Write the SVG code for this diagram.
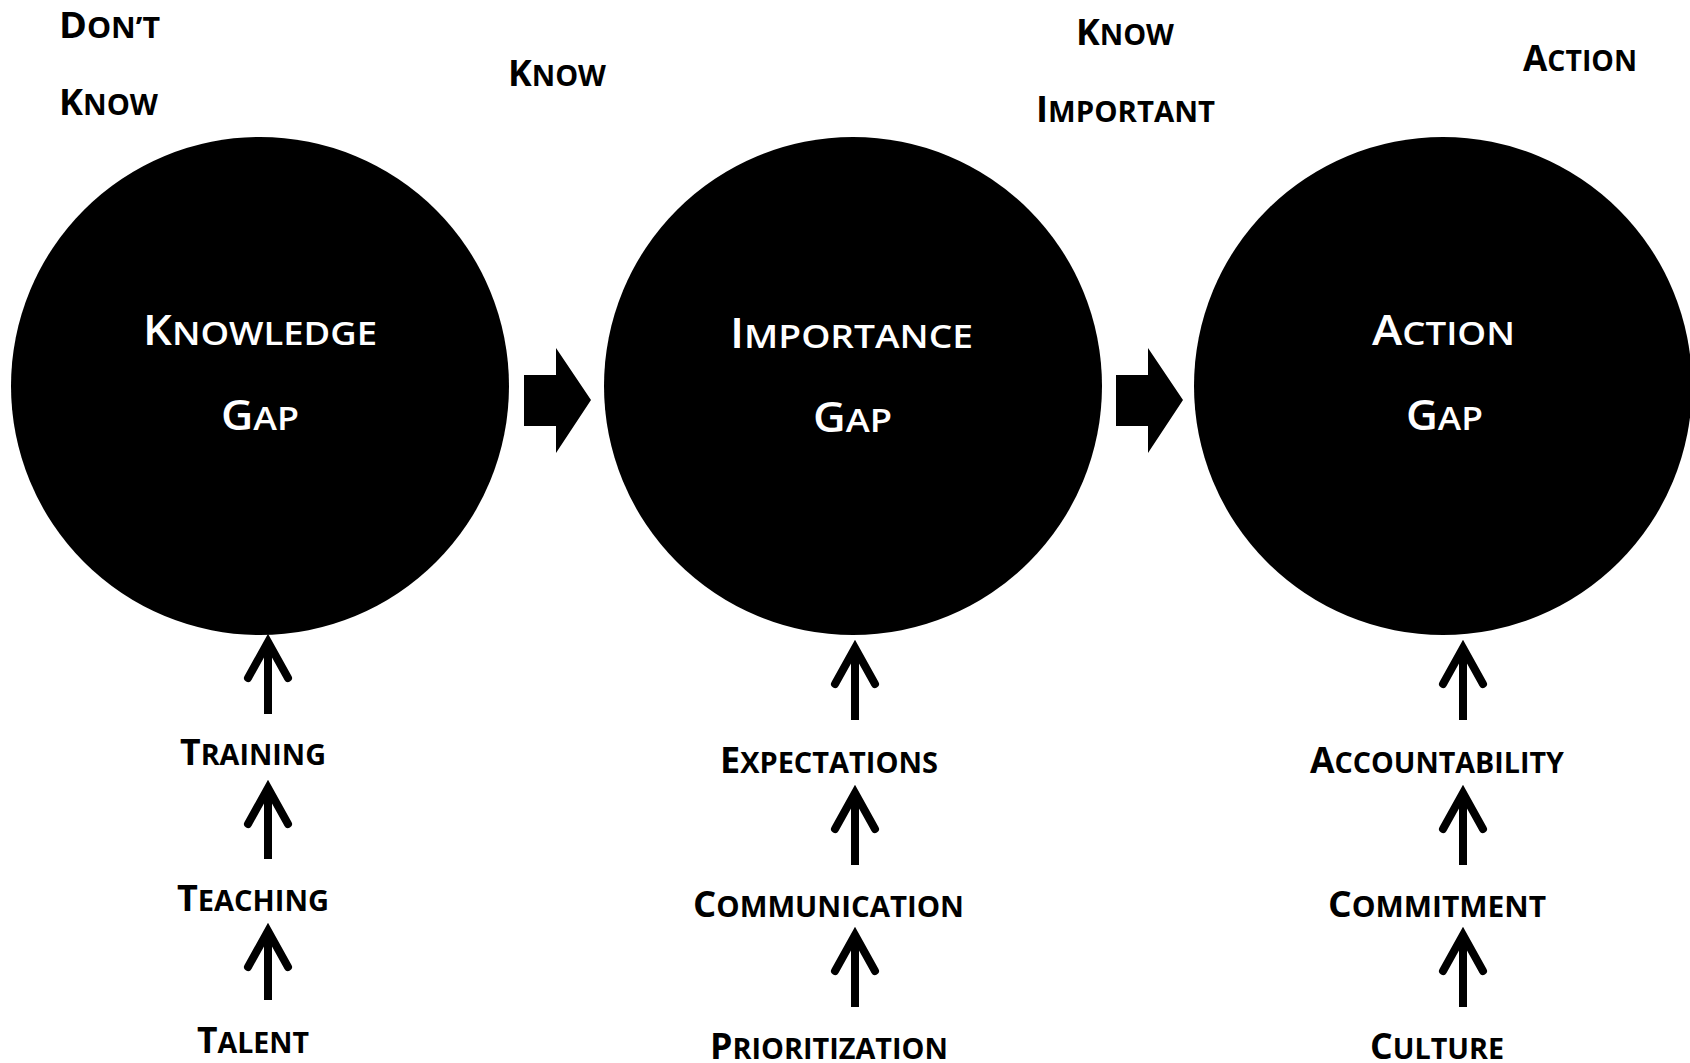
<svg xmlns="http://www.w3.org/2000/svg" width="1690" height="1063" viewBox="0 0 1690 1063">
<style>
.lbl{font-family:"Open Sans","Liberation Sans",sans-serif;font-weight:700;fill:#000}
.in{font-family:"Open Sans","Liberation Sans",sans-serif;font-weight:600;fill:#fff}
.big{font-size:36px}
.sm{font-size:29px}
.ib{font-size:41px}
.is{font-size:33px}
.gap{fill:#000}
.blk{fill:#000}
.ar{stroke:#000;stroke-width:8;fill:none}
.arh{stroke:#000;stroke-width:8;fill:none;stroke-linecap:round;stroke-linejoin:miter;stroke-miterlimit:10}
</style>
<rect width="1690" height="1063" fill="#fff"/>
<g id="top-labels">
<text class="lbl" x="59" y="38" textLength="101" lengthAdjust="spacingAndGlyphs"><tspan class="big">D</tspan><tspan class="sm">ON’T</tspan></text>
<text class="lbl" x="59" y="115" textLength="99" lengthAdjust="spacingAndGlyphs"><tspan class="big">K</tspan><tspan class="sm">NOW</tspan></text>
<text class="lbl" x="508" y="86" textLength="98" lengthAdjust="spacingAndGlyphs"><tspan class="big">K</tspan><tspan class="sm">NOW</tspan></text>
<text class="lbl" x="1076" y="45" textLength="98" lengthAdjust="spacingAndGlyphs"><tspan class="big">K</tspan><tspan class="sm">NOW</tspan></text>
<text class="lbl" x="1036" y="122" textLength="179" lengthAdjust="spacingAndGlyphs"><tspan class="big">I</tspan><tspan class="sm">MPORTANT</tspan></text>
<text class="lbl" x="1523" y="71" textLength="114" lengthAdjust="spacingAndGlyphs"><tspan class="big">A</tspan><tspan class="sm">CTION</tspan></text>
</g>
<g id="knowledge-gap">
<circle class="gap" cx="260" cy="386" r="249"/>
<text class="in" x="143" y="345" textLength="234" lengthAdjust="spacingAndGlyphs"><tspan class="ib">K</tspan><tspan class="is">NOWLEDGE</tspan></text>
<text class="in" x="221" y="430" textLength="78" lengthAdjust="spacingAndGlyphs"><tspan class="ib">G</tspan><tspan class="is">AP</tspan></text>
</g>
<g id="importance-gap">
<circle class="gap" cx="853" cy="386" r="249"/>
<text class="in" x="730" y="348" textLength="243" lengthAdjust="spacingAndGlyphs"><tspan class="ib">I</tspan><tspan class="is">MPORTANCE</tspan></text>
<text class="in" x="813" y="432" textLength="79" lengthAdjust="spacingAndGlyphs"><tspan class="ib">G</tspan><tspan class="is">AP</tspan></text>
</g>
<g id="action-gap">
<circle class="gap" cx="1443" cy="386" r="249"/>
<text class="in" x="1372" y="345" textLength="143" lengthAdjust="spacingAndGlyphs"><tspan class="ib">A</tspan><tspan class="is">CTION</tspan></text>
<text class="in" x="1406" y="430" textLength="77" lengthAdjust="spacingAndGlyphs"><tspan class="ib">G</tspan><tspan class="is">AP</tspan></text>
</g>
<g id="knowledge-factors">
<text class="lbl" x="180" y="765" textLength="146" lengthAdjust="spacingAndGlyphs"><tspan class="big">T</tspan><tspan class="sm">RAINING</tspan></text>
<text class="lbl" x="177" y="911" textLength="152" lengthAdjust="spacingAndGlyphs"><tspan class="big">T</tspan><tspan class="sm">EACHING</tspan></text>
<text class="lbl" x="197" y="1053" textLength="112" lengthAdjust="spacingAndGlyphs"><tspan class="big">T</tspan><tspan class="sm">ALENT</tspan></text>
</g>
<g id="importance-factors">
<text class="lbl" x="720" y="773" textLength="218" lengthAdjust="spacingAndGlyphs"><tspan class="big">E</tspan><tspan class="sm">XPECTATIONS</tspan></text>
<text class="lbl" x="693" y="917" textLength="271" lengthAdjust="spacingAndGlyphs"><tspan class="big">C</tspan><tspan class="sm">OMMUNICATION</tspan></text>
<text class="lbl" x="710" y="1059" textLength="238" lengthAdjust="spacingAndGlyphs"><tspan class="big">P</tspan><tspan class="sm">RIORITIZATION</tspan></text>
</g>
<g id="action-factors">
<text class="lbl" x="1310" y="773" textLength="254" lengthAdjust="spacingAndGlyphs"><tspan class="big">A</tspan><tspan class="sm">CCOUNTABILITY</tspan></text>
<text class="lbl" x="1328" y="917" textLength="218" lengthAdjust="spacingAndGlyphs"><tspan class="big">C</tspan><tspan class="sm">OMMITMENT</tspan></text>
<text class="lbl" x="1370" y="1059" textLength="134" lengthAdjust="spacingAndGlyphs"><tspan class="big">C</tspan><tspan class="sm">ULTURE</tspan></text>
</g>
<g id="connectors">
<path class="blk" d="M524,375 H556 V348 L591,400 L556,453 V426 H524 Z"/>
<path class="blk" d="M1116,375 H1148 V348 L1183,400 L1148,453 V426 H1116 Z"/>
<g id="k-arrows">
<line class="ar" x1="268" y1="644" x2="268" y2="714"/><polyline class="arh" points="248,678 268,642 288,678"/>
<line class="ar" x1="268" y1="790" x2="268" y2="859"/><polyline class="arh" points="248,824 268,788 288,824"/>
<line class="ar" x1="268" y1="933" x2="268" y2="1000"/><polyline class="arh" points="248,967 268,931 288,967"/>
</g>
<g id="i-arrows">
<line class="ar" x1="855" y1="650" x2="855" y2="720"/><polyline class="arh" points="835,684 855,648 875,684"/>
<line class="ar" x1="855" y1="795" x2="855" y2="865"/><polyline class="arh" points="835,829 855,793 875,829"/>
<line class="ar" x1="855" y1="937" x2="855" y2="1007"/><polyline class="arh" points="835,971 855,935 875,971"/>
</g>
<g id="a-arrows">
<line class="ar" x1="1463" y1="650" x2="1463" y2="720"/><polyline class="arh" points="1443,684 1463,648 1483,684"/>
<line class="ar" x1="1463" y1="795" x2="1463" y2="865"/><polyline class="arh" points="1443,829 1463,793 1483,829"/>
<line class="ar" x1="1463" y1="937" x2="1463" y2="1007"/><polyline class="arh" points="1443,971 1463,935 1483,971"/>
</g>
</g>
</svg>
